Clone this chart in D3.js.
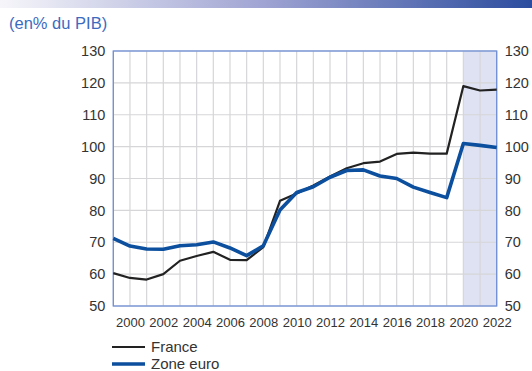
<!DOCTYPE html>
<html>
<head>
<meta charset="utf-8">
<script src="https://cdn.jsdelivr.net/npm/d3@7"></script>
<style>
  html, body { margin: 0; padding: 0; background: #fff; }
  svg { display: block; font-family: "Liberation Sans", Arial, sans-serif; }
</style>
</head>
<body>
<svg id="chart" width="532" height="371"></svg>
<script>
// Public debt, % of GDP
const years = d3.range(1999, 2023);
const france = [60.3, 58.8, 58.3, 60.0, 64.2, 65.7, 67.0, 64.5, 64.4, 68.5, 83.0, 85.3,
                87.8, 90.6, 93.2, 94.8, 95.3, 97.7, 98.1, 97.8, 97.8, 119.0, 117.6, 117.9];
const euroArea = [71.2, 68.8, 67.9, 67.8, 68.9, 69.2, 70.1, 68.2, 65.8, 68.9, 80.1, 85.6,
                  87.4, 90.4, 92.5, 92.7, 90.8, 90.0, 87.3, 85.6, 84.0, 101.0, 100.4, 99.7];
const yTicks = [50, 60, 70, 80, 90, 100, 110, 120, 130];
const xTickYears = d3.range(2000, 2023, 2);
const shadedFrom = 2020;
const seriesNames = ["France", "Zone euro"];

const svg = d3.select("#chart");
const W = 532;

// Header band
const grad = svg.append("defs").append("linearGradient").attr("id", "band");
grad.append("stop").attr("offset", "0%").attr("stop-color", "#f6f6fa");
grad.append("stop").attr("offset", "50%").attr("stop-color", "#9ea3d2");
grad.append("stop").attr("offset", "100%").attr("stop-color", "#2b4c9e");
svg.append("rect").attr("x", 0).attr("y", 0).attr("width", W).attr("height", 8)
  .attr("fill", "url(#band)");

svg.append("text").attr("x", 9).attr("y", 29)
  .attr("fill", "#3b6bbf").attr("font-size", 16.5)
  .text("(en% du PIB)");

const plotL = 113.3, plotR = 496.7, plotT = 51, plotB = 306;
const x = d3.scaleLinear().domain([1999, 2022]).range([plotL, plotR]);
const y = d3.scaleLinear().domain([50, 130]).range([plotB, plotT]);

// Shaded projection period
svg.append("rect")
  .attr("x", x(shadedFrom)).attr("y", plotT)
  .attr("width", x(2022) - x(shadedFrom)).attr("height", plotB - plotT)
  .attr("fill", "#dfe2f2");

// Grid
const grid = svg.append("g").attr("stroke", "#d6d6d8").attr("stroke-width", 1.2);
grid.selectAll("line.v").data(years).join("line").attr("class", "v")
  .attr("x1", d => x(d)).attr("x2", d => x(d))
  .attr("y1", plotT).attr("y2", plotB);
grid.selectAll("line.h").data(yTicks).join("line").attr("class", "h")
  .attr("x1", plotL).attr("x2", plotR)
  .attr("y1", d => y(d)).attr("y2", d => y(d));

// Frame
svg.append("rect").attr("x", plotL).attr("y", plotT)
  .attr("width", plotR - plotL).attr("height", plotB - plotT)
  .attr("fill", "none").attr("stroke", "#6f8fd6").attr("stroke-width", 1.3);

// Axes (labels only)
const axisLeft = svg.append("g").attr("transform", `translate(${plotL},0)`)
  .call(d3.axisLeft(y).tickValues(yTicks).tickSize(0).tickPadding(8));
const axisRight = svg.append("g").attr("transform", `translate(${plotR},0)`)
  .call(d3.axisRight(y).tickValues(yTicks).tickSize(0).tickPadding(8));
const axisBottom = svg.append("g").attr("transform", `translate(0,${plotB})`)
  .call(d3.axisBottom(x).tickValues(xTickYears).tickFormat(d3.format("d")).tickSize(0).tickPadding(12));
[axisLeft, axisRight, axisBottom].forEach(a => {
  a.select(".domain").remove();
  a.selectAll("text").attr("fill", "#333").attr("font-family", "Liberation Sans, Arial, sans-serif");
});
axisLeft.selectAll("text").attr("font-size", 14.5);
axisRight.selectAll("text").attr("font-size", 14.5);
axisBottom.selectAll("text").attr("font-size", 13);

// Lines
const line = d3.line().x((d, i) => x(years[i])).y(d => y(d));
svg.append("path").datum(france).attr("d", line)
  .attr("fill", "none").attr("stroke", "#222").attr("stroke-width", 2.2)
  .attr("stroke-linejoin", "round");
svg.append("path").datum(euroArea).attr("d", line)
  .attr("fill", "none").attr("stroke", "#0b4f9e").attr("stroke-width", 3.6)
  .attr("stroke-linejoin", "round");

// Legend
const legend = svg.append("g");
const legendItems = [
  { name: seriesNames[0], color: "#222", w: 2.2, y: 347 },
  { name: seriesNames[1], color: "#0b4f9e", w: 3.6, y: 364 }
];
legendItems.forEach(it => {
  legend.append("line").attr("x1", 112).attr("x2", 145)
    .attr("y1", it.y).attr("y2", it.y)
    .attr("stroke", it.color).attr("stroke-width", it.w);
  legend.append("text").attr("x", 151).attr("y", it.y + 5)
    .attr("font-size", 15).attr("fill", "#333").text(it.name);
});
</script>
</body>
</html>
